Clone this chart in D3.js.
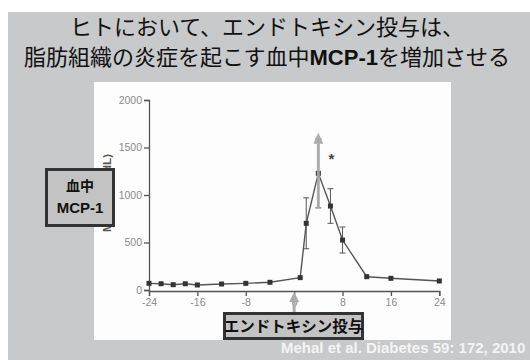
<!DOCTYPE html>
<html>
<head>
<meta charset="utf-8">
<script src="https://cdn.jsdelivr.net/npm/d3@7"></script>
<style>
  body { margin: 0; background: #fff; }
  svg { display: block; }
</style>
</head>
<body>
<div class="canva"></div>
<script>
// data (hours vs endotoxin, MCP-1 mean and error)
const hours = [-24, -22, -20, -18, -16, -12, -8, -4, 1, 2, 4, 6, 8, 12, 16, 24];
const mcp = [70, 66, 56, 66, 53, 63, 70, 81, 130, 702, 1228, 884, 526, 140, 123, 95];
const err = [14, 10, 10, 10, 10, 10, 12, 18, 25, 268, 364, 182, 137, 18, 14, 12];
const xTicks = [-24, -16, -8, 0, 8, 16, 24];
const yTicks = [0, 500, 1000, 1500, 2000];

const titleLine1 = "ヒトにおいて、エンドトキシン投与は、";
const creditText = "Mehal et al. Diabetes 59: 172, 2010";

const width = 530, height = 360;
const svg = d3.select(".canva").append("svg")
    .attr("width", width)
    .attr("height", height);

const cjk = "'Noto Sans CJK JP', 'Liberation Sans', sans-serif";

// background
svg.append("rect").attr("x", 8).attr("y", 12).attr("width", width - 8).attr("height", height - 12)
    .attr("fill", "#c8c9cb");

// title
svg.append("text")
    .attr("x", 267).attr("y", 35)
    .attr("text-anchor", "middle")
    .attr("font-family", cjk).attr("font-size", 22)
    .attr("fill", "#111")
    .text(titleLine1);

const t2 = svg.append("text")
    .attr("x", 267).attr("y", 65)
    .attr("text-anchor", "middle")
    .attr("font-family", cjk).attr("font-size", 22)
    .attr("fill", "#111");
t2.append("tspan").text("脂肪組織の炎症を起こす血中");
t2.append("tspan").attr("font-family", "'Liberation Sans', Arial, sans-serif").attr("font-weight", "bold").text("MCP-1");
t2.append("tspan").text("を増加させる");

// white chart panel
svg.append("rect").attr("x", 94).attr("y", 82).attr("width", 357).attr("height", 258)
    .attr("fill", "#fdfdfd");

const x = d3.scaleLinear().domain([-24, 24]).range([149, 439.3]);
const y = d3.scaleLinear().domain([0, 2000]).range([290, 100]);

const tickFont = "'Liberation Sans', Arial, sans-serif";
const plain = d => String(d);

const yAxis = svg.append("g")
    .attr("transform", "translate(149,0)")
    .call(d3.axisLeft(y).tickValues(yTicks).tickFormat(plain).tickSize(5).tickPadding(2));
const xAxis = svg.append("g")
    .attr("transform", "translate(0,291)")
    .call(d3.axisBottom(x).tickValues(xTicks).tickFormat(plain).tickSize(5).tickPadding(3));

[xAxis, yAxis].forEach(a => {
    a.select(".domain").attr("stroke", "#555").attr("stroke-width", 1.3);
    a.selectAll(".tick line").attr("stroke", "#555").attr("stroke-width", 1.3);
    a.selectAll(".tick text").attr("fill", "#8a8a8a").attr("font-family", tickFont).attr("font-size", 10.5);
});

// y axis title, mostly hidden behind the box
svg.append("text")
    .attr("transform", "translate(111,193) rotate(-90)")
    .attr("text-anchor", "middle")
    .attr("font-family", tickFont).attr("font-size", 11.5).attr("font-weight", "bold")
    .attr("fill", "#555")
    .text("MCP-1 (pg/dL)");

// error bars
const eb = svg.append("g").attr("stroke", "#555").attr("stroke-width", 1);
hours.forEach((h, i) => {
    if (err[i] < 30) return;
    const cx = x(h);
    eb.append("line").attr("x1", cx).attr("x2", cx).attr("y1", y(mcp[i] - err[i])).attr("y2", y(mcp[i] + err[i]));
    eb.append("line").attr("x1", cx - 3).attr("x2", cx + 3).attr("y1", y(mcp[i] - err[i])).attr("y2", y(mcp[i] - err[i]));
    eb.append("line").attr("x1", cx - 3).attr("x2", cx + 3).attr("y1", y(mcp[i] + err[i])).attr("y2", y(mcp[i] + err[i]));
});

// line and markers
const line = d3.line().x((d, i) => x(hours[i])).y(d => y(d));
svg.append("path").datum(mcp)
    .attr("d", line)
    .attr("fill", "none")
    .attr("stroke", "#555")
    .attr("stroke-width", 1.4);

svg.selectAll("rect.pt").data(mcp).enter()
    .append("rect").attr("class", "pt")
    .attr("x", (d, i) => x(hours[i]) - 2.5)
    .attr("y", d => y(d) - 2.5)
    .attr("width", 5).attr("height", 5)
    .attr("fill", "#333");

// gray arrow at the peak
const peak = 10;
const arrowCol = "#ababab";
svg.append("rect")
    .attr("x", x(hours[peak]) - 1.5).attr("y", y(mcp[peak] + err[peak]) + 2)
    .attr("width", 3).attr("height", y(mcp[peak] - err[peak]) - y(mcp[peak] + err[peak]) - 2)
    .attr("fill", arrowCol).attr("opacity", 0.9);
svg.append("path")
    .attr("d", `M${x(hours[peak])},${y(1655)} l-5,11 l10,0 Z`)
    .attr("fill", arrowCol);

// star
svg.append("text")
    .attr("x", x(6) + 1).attr("y", y(1400) + 7)
    .attr("text-anchor", "middle")
    .attr("font-family", tickFont).attr("font-size", 15).attr("font-weight", "bold")
    .attr("fill", "#444")
    .text("*");

// arrow marking endotoxin dose at time 0
svg.append("rect").attr("x", x(0) - 1.5).attr("y", 300).attr("width", 3).attr("height", 14).attr("fill", arrowCol);
svg.append("path").attr("d", `M${x(0)},292 l-5,10 l10,0 Z`).attr("fill", arrowCol);

// labelled boxes
function box(x0, y0, w, h) {
    svg.append("rect")
        .attr("x", x0 + 1.5).attr("y", y0 + 1.5)
        .attr("width", w - 3).attr("height", h - 3)
        .attr("fill", "#c3c3c3")
        .attr("stroke", "#333").attr("stroke-width", 3);
}

box(45, 168, 70, 59);
svg.append("text").attr("x", 80).attr("y", 191).attr("text-anchor", "middle")
    .attr("font-family", cjk).attr("font-weight", "bold").attr("font-size", 14).attr("fill", "#111")
    .text("血中");
svg.append("text").attr("x", 80).attr("y", 213).attr("text-anchor", "middle")
    .attr("font-family", tickFont).attr("font-weight", "bold").attr("font-size", 15).attr("fill", "#111")
    .text("MCP-1");

box(223, 312, 141, 28);
svg.append("text").attr("x", 293.5).attr("y", 331.5).attr("text-anchor", "middle")
    .attr("font-family", cjk).attr("font-weight", "bold").attr("font-size", 15.5).attr("fill", "#111")
    .text("エンドトキシン投与");

// credit
svg.append("text")
    .attr("x", 281).attr("y", 353)
    .attr("font-family", tickFont).attr("font-weight", "bold").attr("font-size", 15)
    .attr("fill", "#f4f4f4")
    .text(creditText);
</script>
</body>
</html>
